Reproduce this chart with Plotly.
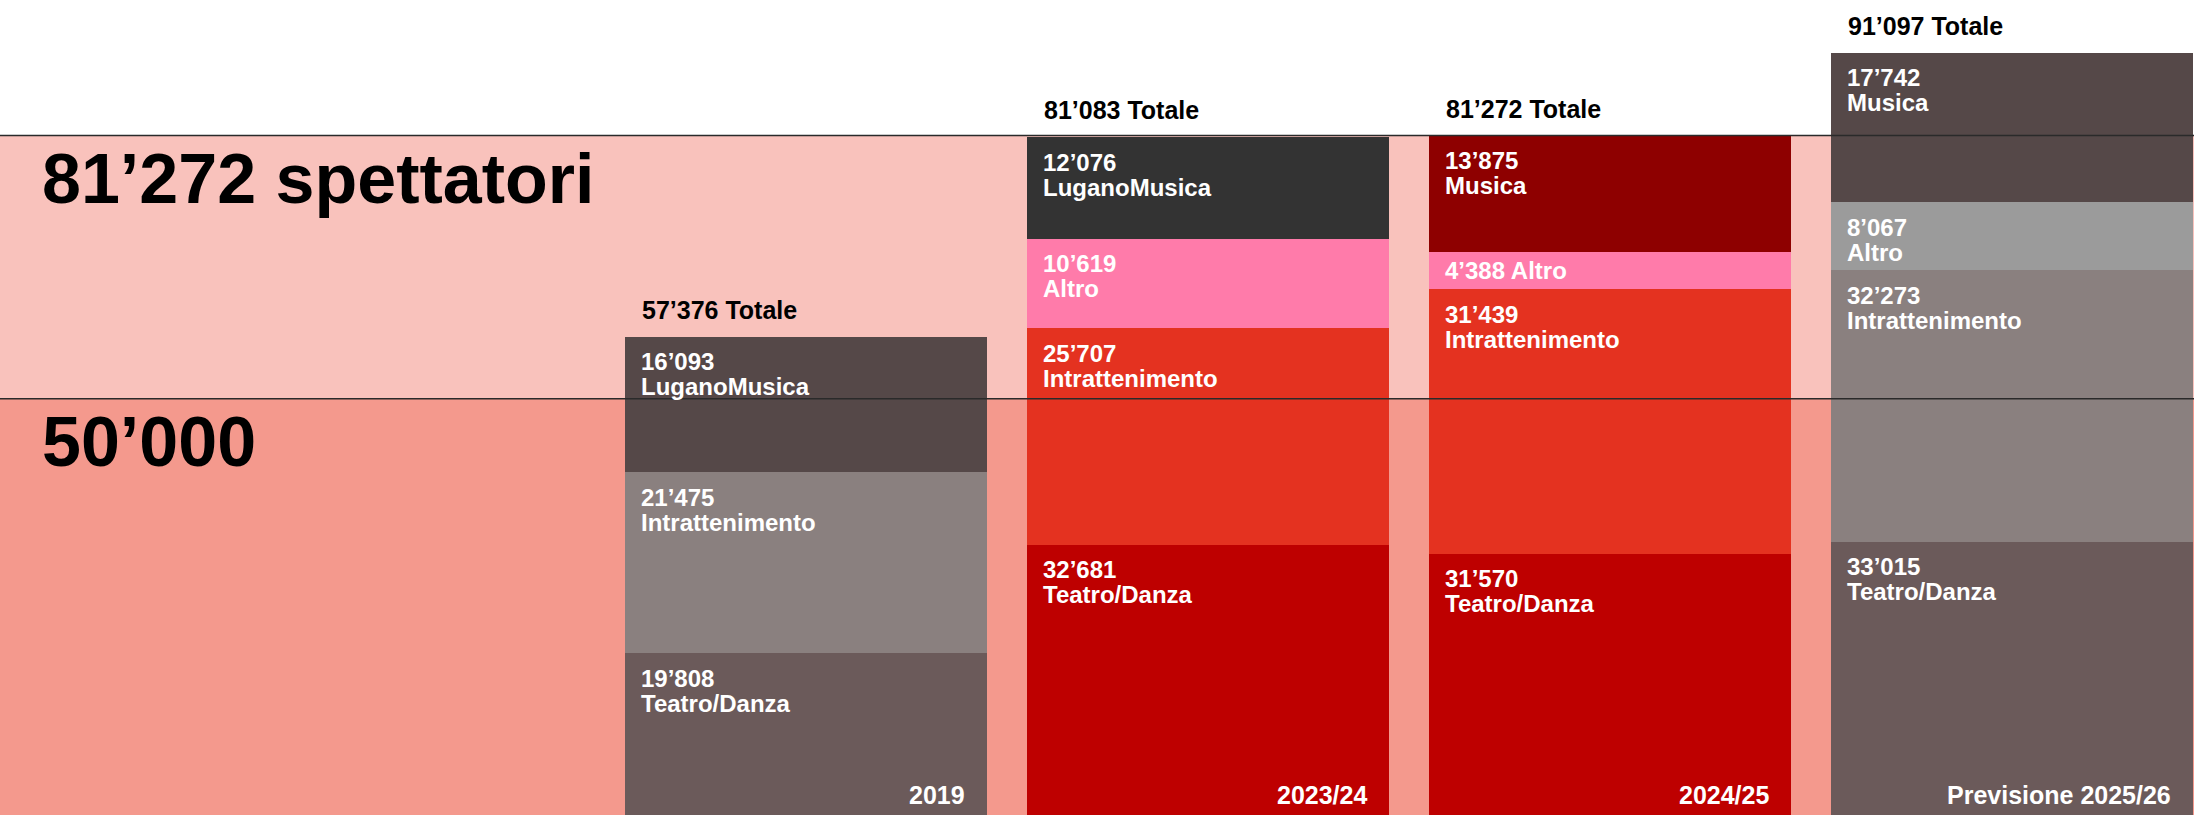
import plotly.graph_objects as go

# ---- data ----
years = ["2019", "2023/24", "2024/25", "Previsione 2025/26"]
totals = [57376, 81083, 81272, 91097]
teatro = [19808, 32681, 31570, 33015]
intratt = [21475, 25707, 31439, 32273]
altro = [0, 10619, 4388, 8067]
musica = [16093, 12076, 13875, 17742]
musica_names = ["LuganoMusica", "LuganoMusica", "Musica", "Musica"]
ref_values = [50000, 81272]
ref_labels = ["50’000", "81’272 spettatori"]

# ---- styles ----
teatro_col = ["#6B5A5A", "#BE0000", "#BE0000", "#6B5A5A"]
intratt_col = ["#8A807F", "#E43220", "#E43220", "#8A807F"]
altro_col = ["#9B9B9B", "#FF7BAA", "#FF7BAA", "#9B9B9B"]
musica_col = ["#554848", "#333333", "#8E0000", "#554848"]
band_low = "#F4998D"
band_high = "#F9C2BC"

W, H = 2194, 815
Y_RANGE = [568, 97365]
X_RANGE = [-2.005, 3.4527]
BAR_W = 0.9
px_per_x = W / (X_RANGE[1] - X_RANGE[0])
px_per_y = H / (Y_RANGE[1] - Y_RANGE[0])
half_bar_px = BAR_W / 2 * px_per_x

FONT = "Liberation Sans"
LBL = 24


def fmt(v):
    return f"{v:,}".replace(",", "’")


series = [
    ("Teatro/Danza", teatro, teatro_col, ["Teatro/Danza"] * 4),
    ("Intrattenimento", intratt, intratt_col, ["Intrattenimento"] * 4),
    ("Altro", altro, altro_col, ["Altro"] * 4),
    ("Musica", musica, musica_col, musica_names),
]

fig = go.Figure()
for name, vals, cols, _ in series:
    fig.add_trace(go.Bar(
        x=years, y=vals, name=name, width=BAR_W,
        marker=dict(color=cols, line=dict(width=0)),
        hoverinfo="skip", showlegend=False,
    ))

annotations = []
cum = [0] * len(years)
for name, vals, cols, names in series:
    for j, v in enumerate(vals):
        if v <= 0:
            continue
        bottom = cum[j]
        top = bottom + v
        cum[j] = top
        seg_px = v * px_per_y
        common = dict(x=j, xref="x", yref="y", showarrow=False,
                      xanchor="left", yanchor="middle", xshift=-half_bar_px + 14,
                      font=dict(family=FONT, size=LBL, color="white", weight="bold"))
        if seg_px < 50:
            annotations.append(dict(common, y=bottom + v / 2,
                                    text=f"{fmt(v)} {names[j]}"))
        else:
            annotations.append(dict(common, y=top, text=fmt(v), yshift=-25))
            annotations.append(dict(common, y=top, text=names[j], yshift=-50))

# totals above bars
for j, t in enumerate(totals):
    annotations.append(dict(
        x=j, y=t, xref="x", yref="y",
        text=f"{fmt(t)} Totale", showarrow=False,
        xanchor="left", yanchor="middle", xshift=-half_bar_px + 15, yshift=27,
        font=dict(family=FONT, size=25, color="black", weight="bold"),
    ))

# year labels at bottom right of bars
for j, yr in enumerate(years):
    annotations.append(dict(
        x=j, y=0, xref="x", yref="paper",
        text=yr, showarrow=False,
        xanchor="right", yanchor="middle", xshift=half_bar_px - 20, yshift=20,
        font=dict(family=FONT, size=25, color="white", weight="bold"),
    ))

# big reference labels
for v, lab in zip(ref_values, ref_labels):
    annotations.append(dict(
        x=0, y=v, xref="paper", yref="y",
        text=lab, showarrow=False,
        xanchor="left", yanchor="middle", xshift=40, yshift=-43,
        font=dict(family=FONT, size=70, color="black", weight="bold"),
    ))

shapes = [
    dict(type="rect", xref="paper", yref="y", x0=0, x1=1, y0=0, y1=ref_values[0],
         fillcolor=band_low, line=dict(width=0), layer="below"),
    dict(type="rect", xref="paper", yref="y", x0=0, x1=1, y0=ref_values[0], y1=ref_values[1],
         fillcolor=band_high, line=dict(width=0), layer="below"),
]
for v in ref_values:
    shapes.append(dict(type="line", xref="paper", yref="y", x0=0, x1=1, y0=v, y1=v,
                       line=dict(color="#2a2a2a", width=1.5), layer="above"))

fig.update_layout(
    width=W, height=H,
    margin=dict(l=0, r=0, t=0, b=0),
    barmode="stack", bargap=0,
    paper_bgcolor="white", plot_bgcolor="white",
    xaxis=dict(type="category", range=X_RANGE, visible=False, fixedrange=True),
    yaxis=dict(range=Y_RANGE, visible=False, fixedrange=True),
    shapes=shapes, annotations=annotations,
    font=dict(family=FONT),
)

fig.write_html("out.html", config={"displayModeBar": False},
               post_script="document.body.style.margin='0';document.body.style.overflow='hidden';")
